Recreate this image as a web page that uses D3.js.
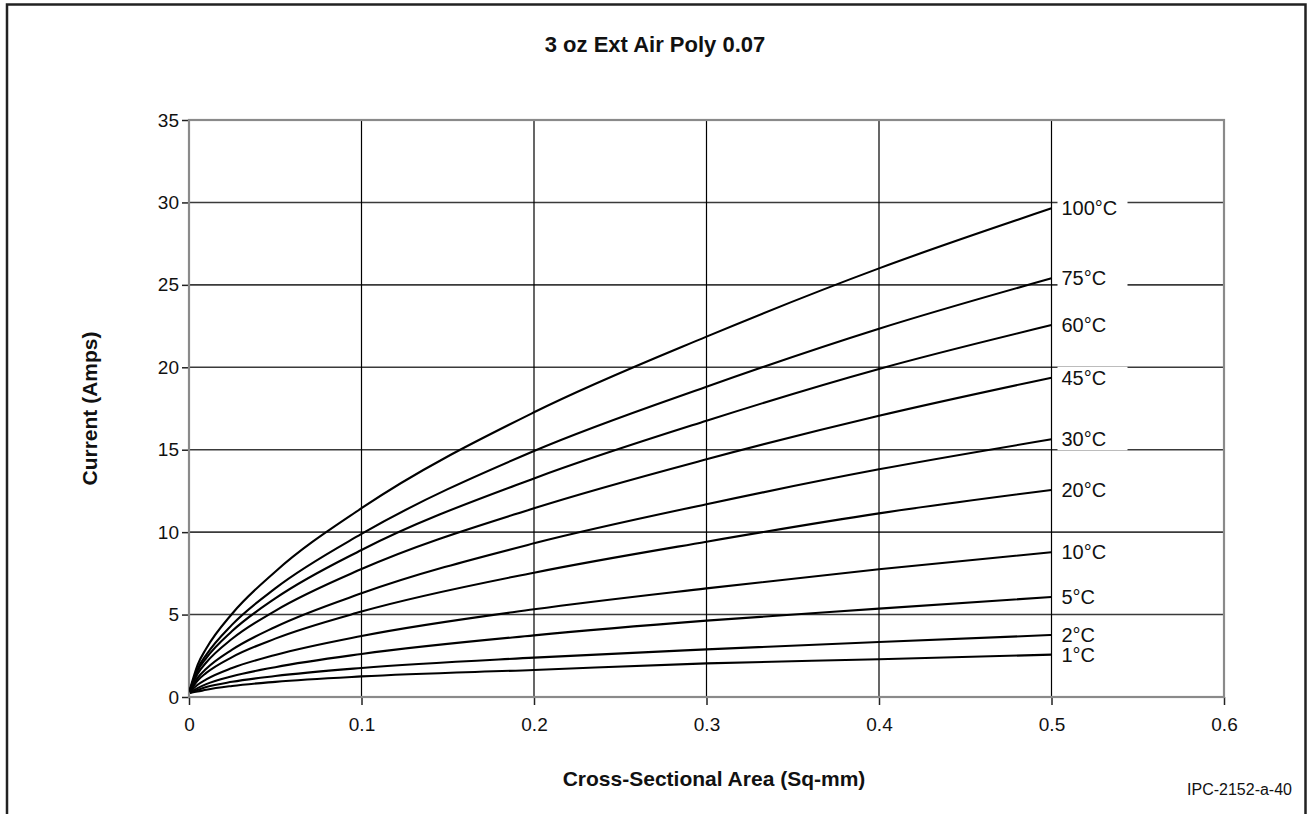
<!DOCTYPE html>
<html><head><meta charset="utf-8">
<script src="https://cdn.jsdelivr.net/npm/d3@7"></script>
<style>body{margin:0;background:#fff}svg{display:block}text{font-family:"Liberation Sans",Arial,Helvetica,sans-serif;fill:#111}</style>
</head><body><svg id="c" width="1310" height="814"></svg>
<script>
// ---- data ----
const areas = [0.0005, 0.005, 0.01, 0.025, 0.05, 0.1, 0.2, 0.3, 0.4, 0.5];
const seriesNames = ["100°C", "75°C", "60°C", "45°C", "30°C", "20°C", "10°C", "5°C", "2°C", "1°C"];
const amps100 = [0.45, 1.95, 2.94, 5.05, 7.6, 11.45, 17.27, 21.86, 26.0, 29.64];
const amps75  = [0.42, 1.71, 2.56, 4.39, 6.59, 9.89, 14.92, 18.82, 22.34, 25.4];
const amps60  = [0.40, 1.59, 2.36, 4.0, 5.98, 8.92, 13.26, 16.76, 19.9, 22.56];
const amps45  = [0.38, 1.41, 2.09, 3.53, 5.23, 7.76, 11.45, 14.42, 17.06, 19.37];
const amps30  = [0.35, 1.16, 1.71, 2.87, 4.25, 6.29, 9.32, 11.69, 13.81, 15.63];
const amps20  = [0.33, 1.0, 1.46, 2.42, 3.54, 5.18, 7.54, 9.42, 11.14, 12.56];
const amps10  = [0.30, 0.74, 1.07, 1.76, 2.55, 3.70, 5.32, 6.59, 7.75, 8.78];
const amps5   = [0.28, 0.54, 0.78, 1.26, 1.81, 2.61, 3.74, 4.63, 5.36, 6.07];
const amps2   = [0.26, 0.43, 0.60, 0.92, 1.27, 1.76, 2.39, 2.89, 3.34, 3.76];
const amps1   = [0.25, 0.33, 0.44, 0.67, 0.92, 1.25, 1.64, 2.04, 2.29, 2.57];
const seriesValues = [amps100, amps75, amps60, amps45, amps30, amps20, amps10, amps5, amps2, amps1];
const xTicks = [0, 0.1, 0.2, 0.3, 0.4, 0.5, 0.6];
const yTicks = [0, 5, 10, 15, 20, 25, 30, 35];
const titleText = "3 oz Ext Air Poly 0.07";
const xLabel = "Cross-Sectional Area (Sq-mm)";
const yLabel = "Current (Amps)";
const footnote = "IPC-2152-a-40";

// ---- layout ----
const svg = d3.select("#c");
const L = 189, R = 1224, T = 120, B = 697;
const x = d3.scaleLinear().domain([0, 0.6]).range([L, R]);
const y = d3.scaleLinear().domain([0, 35]).range([B, T]);

// outer frame
svg.append("path").attr("d", `M7,820 V4.5 H1305.5 V820`).attr("fill", "none")
  .attr("stroke", "#222").attr("stroke-width", 2.5);

// gridlines
svg.append("g").selectAll("line").data(yTicks.filter(v => v > 0 && v < 35)).join("line")
  .attr("x1", L).attr("x2", R).attr("y1", d => y(d)).attr("y2", d => y(d))
  .attr("stroke", "#3a3a3a").attr("stroke-width", 1.6);
svg.append("g").selectAll("line").data(xTicks.filter(v => v > 0 && v < 0.6)).join("line")
  .attr("x1", d => x(d)).attr("x2", d => x(d)).attr("y1", T).attr("y2", B)
  .attr("stroke", "#000").attr("stroke-width", 1.2);

// axes
const yAxis = svg.append("g").attr("transform", `translate(${L},0)`)
  .call(d3.axisLeft(y).tickValues(yTicks).tickSize(7).tickPadding(3).tickFormat(d3.format("d")));
const xAxis = svg.append("g").attr("transform", `translate(0,${B})`)
  .call(d3.axisBottom(x).tickValues(xTicks).tickSize(8).tickPadding(13).tickFormat(d => d === 0 ? "0" : d3.format(".1f")(d)));
[yAxis, xAxis].forEach(g => {
  g.select(".domain").remove();
  g.selectAll(".tick line").attr("stroke", "#222").attr("stroke-width", 1.5);
  g.selectAll("text").attr("font-size", 19).attr("fill", "#111")
    .attr("font-family", '"Liberation Sans",Arial,sans-serif');
});

// plot border
svg.append("rect").attr("x", L).attr("y", T).attr("width", R - L).attr("height", B - T)
  .attr("fill", "none").attr("stroke", "#8a8a8a").attr("stroke-width", 2.2);

// curves
const line = d3.line().x((d, i) => x(areas[i])).y(d => y(d)).curve(d3.curveMonotoneX);
svg.append("g").selectAll("path").data(seriesValues).join("path")
  .attr("d", d => line(d)).attr("fill", "none").attr("stroke", "#000").attr("stroke-width", 2.1);

// series labels
const lab = svg.append("g");
seriesValues.forEach((vals, i) => {
  const yy = y(vals[vals.length - 1]);
  lab.append("rect").attr("x", x(0.5) + 6).attr("y", yy - 11).attr("width", 70).attr("height", 22).attr("fill", "#fff");
});
seriesValues.forEach((vals, i) => {
  const yy = y(vals[vals.length - 1]);
  lab.append("text").attr("x", x(0.5) + 10).attr("y", yy).attr("dy", "0.35em")
    .attr("font-size", 20).text(seriesNames[i]);
});

// titles
svg.append("text").attr("x", 655).attr("y", 52).attr("text-anchor", "middle")
  .attr("font-weight", "bold").attr("font-size", 22).text(titleText);
svg.append("text").attr("x", 714).attr("y", 786).attr("text-anchor", "middle")
  .attr("font-weight", "bold").attr("font-size", 21).text(xLabel);
svg.append("text").attr("transform", `translate(97,${(T + B) / 2}) rotate(-90)`).attr("text-anchor", "middle")
  .attr("font-weight", "bold").attr("font-size", 21).text(yLabel);
svg.append("text").attr("x", 1292).attr("y", 795).attr("text-anchor", "end")
  .attr("font-size", 16).attr("fill", "#333").text(footnote);
</script></body></html>
